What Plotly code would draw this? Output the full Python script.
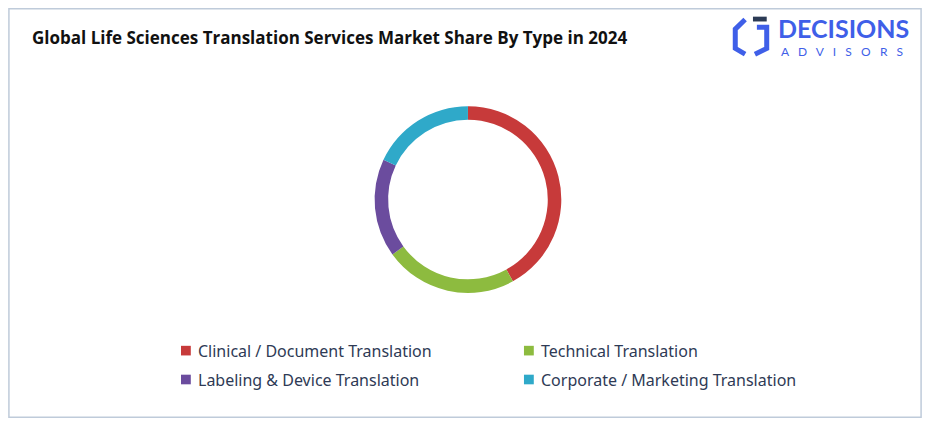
import plotly.graph_objects as go

types = ["Clinical / Document Translation", "Technical Translation",
         "Labeling & Device Translation", "Corporate / Marketing Translation"]
shares = [42, 23, 17, 18]
colors = ["#C73A3A", "#8DBB3F", "#6B4C9E", "#2FA9C9"]

W, H = 930, 426
def px(x, y):
    return x / W, 1 - y / H

fig = go.Figure()
fig.add_trace(go.Pie(
    labels=types, values=shares, hole=0.855, sort=False, direction="clockwise",
    rotation=0, textinfo="none", hoverinfo="label+percent",
    marker=dict(colors=colors, line=dict(width=0)),
    domain=dict(x=[(468-97)/W, (468+97)/W], y=[1-296/H, 1-102/H]),
))

fig.update_layout(
    autosize=True,
    margin=dict(l=0, r=0, t=0, b=0),
    paper_bgcolor="white",
    showlegend=False,
    font=dict(family="Noto Sans"),
)

# manual legend, two columns
leg_pos = [(181, 356), (530, 356), (181, 386), (530, 386)]
for name, c, (lx, ly) in zip(types, colors, leg_pos):
    x0, y0 = px(lx - 5, ly - 5)
    x1, y1 = px(lx + 5, ly + 5)
    fig.add_shape(type="rect", xref="paper", yref="paper", x0=x0, x1=x1, y0=y1, y1=y0,
                  fillcolor=c, line=dict(width=0))
    tx, ty = px(lx + 10, ly)
    fig.add_annotation(text=name, x=tx, y=ty, xref="paper", yref="paper", showarrow=False,
                       xanchor="left", yanchor="middle",
                       font=dict(family="Noto Sans", size=16, color="#2E3A55"))

tx, ty = px(22, 31)
fig.add_annotation(text="<b>Global Life Sciences Translation Services Market Share By Type in 2024</b>",
                   x=tx, y=ty, xref="paper", yref="paper", showarrow=False,
                   xanchor="left", yanchor="middle",
                   font=dict(family="Open Sans", size=17, color="#111"))

blue = "#3F5FE8"
tx, ty = px(781, 21)
fig.add_annotation(text="<b>DECISIONS</b>", x=tx, y=ty, xref="paper", yref="paper",
                   showarrow=False, xanchor="left", yanchor="middle",
                   font=dict(family="Lato", size=25, color=blue))
tx, ty = px(785, 45)
fig.add_annotation(text="A   D   V   I   S   O   R   S", x=tx, y=ty, xref="paper", yref="paper",
                   showarrow=False, xanchor="left", yanchor="middle",
                   font=dict(family="Lato", size=12, color=blue))
# logo mark
def path(pts):
    return "M " + " L ".join("%f %f" % px(a, b) for a, b in pts)
fig.add_shape(type="path", xref="paper", yref="paper",
              path=path([(750, 12), (740, 22), (740, 42), (750, 48)]),
              line=dict(color=blue, width=5))
fig.add_shape(type="path", xref="paper", yref="paper",
              path=path([(762, 20), (772, 20), (772, 42), (760, 48)]),
              line=dict(color=blue, width=5))
x0, y0 = px(758, 14)
x1, y1 = px(772, 9)
fig.add_shape(type="rect", xref="paper", yref="paper", x0=x0, x1=x1, y0=y0, y1=y1,
              fillcolor="#2B3A55", line=dict(width=0))
# border
fig.add_shape(type="rect", xref="paper", yref="paper", x0=0.001, x1=0.999, y0=0.002, y1=0.998,
              line=dict(color="#BFCBDA", width=1.5))

fig.write_html("out.html")
